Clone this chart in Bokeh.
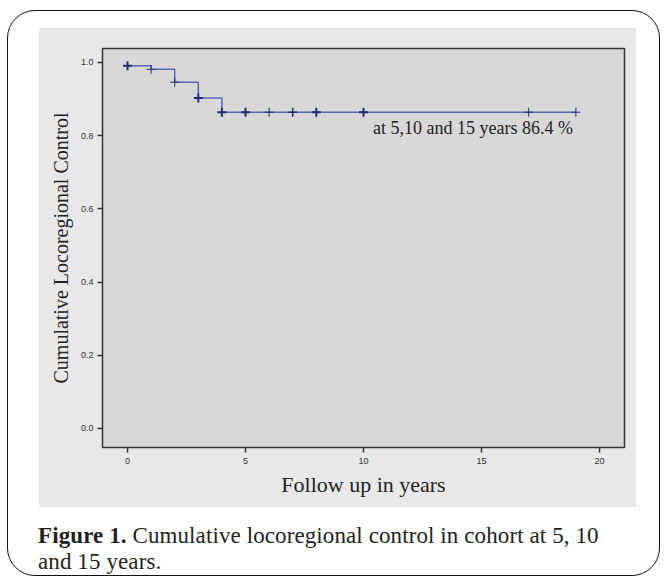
from bokeh.plotting import figure
from bokeh.models import FixedTicker, Label, Div, Column
from bokeh.embed import file_html
from bokeh.resources import INLINE

# ---- data ----
step_times = [0, 1, 2, 3, 4, 19]
step_survival = [0.991, 0.981, 0.946, 0.903, 0.864, 0.864]
censor_times = [0, 1, 2, 3, 4, 5, 6, 7, 8, 10, 17, 19]
censor_survival = [0.991, 0.981, 0.946, 0.903, 0.864, 0.864, 0.864, 0.864, 0.864, 0.864, 0.864, 0.864]
censor_weight = [2, 1, 1, 2, 2, 2, 1, 1.5, 2, 2, 1, 1]
x_ticks = [0, 5, 10, 15, 20]
x_tick_labels = ["0", "5", "10", "15", "20"]
y_ticks = [0.0, 0.2, 0.4, 0.6, 0.8, 1.0]
y_tick_labels = ["0.0", "0.2", "0.4", "0.6", "0.8", "1.0"]
note_text = "at 5,10 and 15 years 86.4 %"
x_title = "Follow up in years"
y_title = "Cumulative Locoregional Control"

p = figure(width=598, height=480, x_range=(-1.06, 21.06), y_range=(-0.052, 1.038),
           output_backend="svg", toolbar_location=None,
           min_border_left=64, min_border_right=12, min_border_top=21, min_border_bottom=60,
           background_fill_color="#d8d8d8", border_fill_color="#e8e8e8",
           outline_line_color="#333333", outline_line_width=1.5)
p.grid.visible = False

for ax in (p.xaxis, p.yaxis):
    ax.axis_line_color = None
    ax.major_tick_in = 0
    ax.major_tick_out = 5
    ax.major_tick_line_color = "#333333"
    ax.major_tick_line_width = 1.5
    ax.minor_tick_line_color = None
    ax.major_label_text_font = "Liberation Sans"
    ax.major_label_text_font_size = "9px"
    ax.major_label_text_color = "#333333"
    ax.axis_label_text_font = "Liberation Serif"
    ax.axis_label_text_font_style = "normal"
    ax.axis_label_text_color = "#222222"

p.xaxis.axis_label_text_font_size = "22px"
p.yaxis.axis_label_text_font_size = "20px"
p.xaxis.ticker = FixedTicker(ticks=x_ticks)
p.xaxis.major_label_overrides = {t: l for t, l in zip(x_ticks, x_tick_labels)}
p.yaxis.ticker = FixedTicker(ticks=y_ticks)
p.yaxis.major_label_overrides = {t: l for t, l in zip(y_ticks, y_tick_labels)}
p.xaxis.axis_label = x_title
p.yaxis.axis_label = y_title
p.xaxis.major_label_standoff = 5
p.xaxis.axis_label_standoff = 5
p.yaxis.major_label_standoff = 4
p.yaxis.axis_label_standoff = 6

p.step(x=step_times, y=step_survival, mode="after", line_color="#5669b6", line_width=1.5)
for t, s, w in zip(censor_times, censor_survival, censor_weight):
    p.scatter(x=[t], y=[s], marker="cross", size=9, line_color="#1e2c7c", line_width=w)

p.add_layout(Label(x=10.4, y=0.82, text=note_text, text_font="Liberation Serif",
                   text_font_size="18px", text_color="#222222", text_baseline="middle"))

p.margin = (16, 0, 0, 30)

cap = Div(text='<b>Figure 1.</b> Cumulative locoregional control in cohort at 5, 10<br>and 15 years.',
          width=620, margin=(16, 0, 0, 30),
          styles={"font-family": "Liberation Serif", "font-size": "23px", "line-height": "26px",
                  "color": "#231f20", "white-space": "nowrap", "letter-spacing": "0.1px"})

layout = Column(p, cap, width=653, height=566, margin=(10, 0, 0, 7),
                styles={"border": "1.5px solid #111", "border-radius": "28px",
                        "box-sizing": "border-box"})

open("out.html", "w").write(file_html(layout, INLINE))
